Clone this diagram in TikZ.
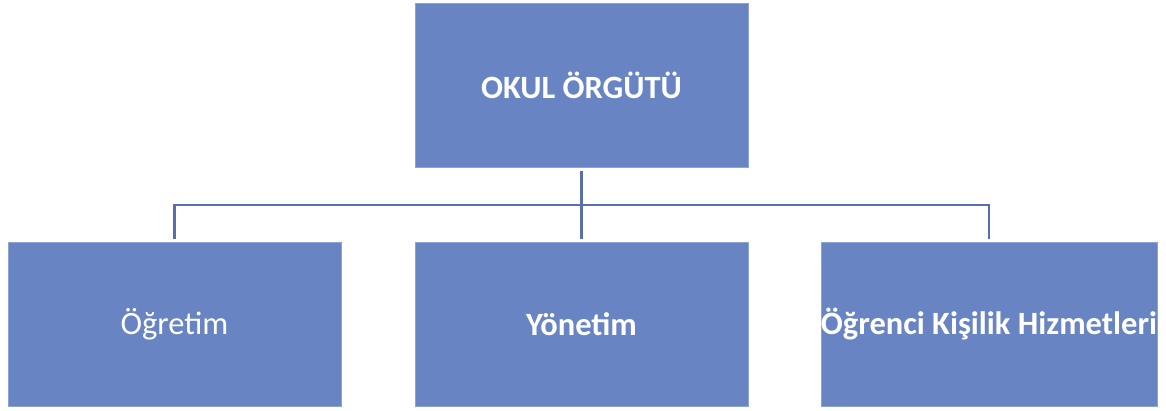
\documentclass[tikz,border=0pt]{standalone}
\usepackage{fontspec}
\setmainfont{Carlito}
\definecolor{boxfill}{HTML}{6884C2}
\definecolor{boxedge}{HTML}{8EA2D4}
\definecolor{linecol}{HTML}{5A6EAE}
\begin{document}
\begin{tikzpicture}[x=1pt,y=-1pt,
  orgbox/.style={rectangle, fill=boxfill, draw=boxedge, line width=0.6pt,
    minimum width=333pt, minimum height=164pt, inner sep=0pt,
    text=white, font=\fontsize{32.5}{38}\selectfont, align=center},
  conn/.style={draw=linecol, line width=2.4pt}]
\useasboundingbox (0,0) rectangle (1166,410);
\node[orgbox, font=\fontsize{32.5}{38}\selectfont\bfseries] (top) at (581.5,85) {OKUL ÖRGÜTÜ};
\node[orgbox] (left) at (174.5,324.5) {Öğretim};
\node[orgbox, font=\fontsize{32.5}{38}\selectfont\bfseries] (mid) at (581.5,324.5) {Yönetim};
\node[orgbox, font=\fontsize{32.5}{38}\selectfont\bfseries] (right) at (989,324.5) {Öğrenci Kişilik Hizmetleri};
\coordinate (bus) at (581.5,205);
\draw[conn] ([yshift=-4pt]top.south) -- ([yshift=3pt]mid.north);
\draw[conn] ([yshift=3pt]left.north) |- (bus) -| ([yshift=3pt]right.north);
\end{tikzpicture}
\end{document}
